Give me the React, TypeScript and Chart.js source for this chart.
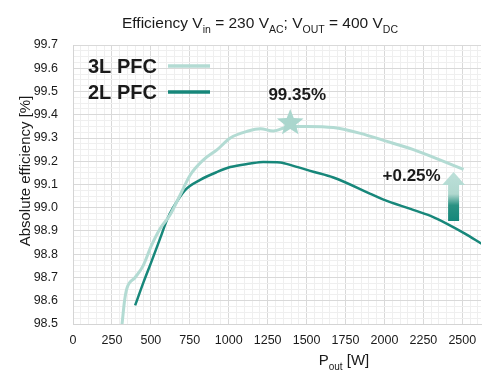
import React, { useEffect, useRef } from "react";
import { Chart, registerables } from "chart.js";

Chart.register(...registerables);

// ---- Data ----
const power3L = [305, 315, 331, 347, 399, 450, 502, 559, 624, 688, 752, 836, 926, 1010, 1125, 1203, 1286, 1395, 1505, 1672, 1846, 1994, 2186, 2360, 2508];
const eff3L = [98.44, 98.5, 98.6, 98.655, 98.7, 98.75, 98.835, 98.91, 98.97, 99.055, 99.14, 99.205, 99.25, 99.3, 99.33, 99.34, 99.33, 99.35, 99.35, 99.345, 99.32, 99.29, 99.25, 99.205, 99.165];

const power2L = [399, 453, 502, 559, 605, 643, 720, 817, 926, 1010, 1138, 1222, 1331, 1415, 1543, 1672, 1910, 1994, 2167, 2296, 2405, 2514, 2624];
const eff2L = [98.58, 98.68, 98.765, 98.867, 98.95, 99.0, 99.076, 99.12, 99.154, 99.175, 99.19, 99.197, 99.195, 99.18, 99.155, 99.13, 99.06, 99.035, 98.995, 98.965, 98.93, 98.89, 98.845];

const seriesNames = ["3L PFC", "2L PFC"];
const peakPoint = { w: 1395, eff: 99.365, label: "99.35%" };
const gainArrow = { w: 2444, top: 99.154, bottom: 98.943, label: "+0.25%" };

const xMin = 0;
const xMax = 2620;
const xMajor = 250;
const xMinor = 50;
const yMin = 98.5;
const yMax = 99.7;
const yMinor = 0.025;
const yMajorEvery = 4;

const COLOR_3L = "#b3dbd3";
const COLOR_2L = "#17877a";
const TEXT = "#1a1a1a";
const FONT = "'Liberation Sans', Arial, sans-serif";

const xTickValues: number[] = [];
for (let v = xMin; v <= xMax; v += xMinor) xTickValues.push(v);
const yTickValues: number[] = [];
for (let i = 0; Math.round((yMin + i * yMinor) * 1000) <= yMax * 1000; i++) {
  yTickValues.push(Math.round((yMin + i * yMinor) * 1000) / 1000);
}
const isYMajor = (v: number) => Math.round((v - yMin) / yMinor) % yMajorEvery === 0;
const isXMajor = (v: number) => Math.round(v) % xMajor === 0;

type Part = { t: string; sub?: boolean };

function drawRich(ctx: CanvasRenderingContext2D, parts: Part[], cx: number, baseY: number, size: number, subSize: number) {
  let total = 0;
  const widths = parts.map((p) => {
    ctx.font = `${p.sub ? subSize : size}px ${FONT}`;
    const w = ctx.measureText(p.t).width;
    total += w;
    return w;
  });
  let x = cx - total / 2;
  ctx.textAlign = "left";
  ctx.textBaseline = "alphabetic";
  parts.forEach((p, i) => {
    ctx.font = `${p.sub ? subSize : size}px ${FONT}`;
    ctx.fillText(p.t, x, p.sub ? baseY + size * 0.33 : baseY);
    x += widths[i];
  });
}

function drawStar(ctx: CanvasRenderingContext2D, cx: number, cy: number, R: number, r: number) {
  ctx.beginPath();
  for (let i = 0; i < 10; i++) {
    const ang = -Math.PI / 2 + (i * Math.PI) / 5;
    const rad = i % 2 === 0 ? R : r;
    const x = cx + rad * Math.cos(ang);
    const y = cy + rad * Math.sin(ang);
    if (i === 0) ctx.moveTo(x, y);
    else ctx.lineTo(x, y);
  }
  ctx.closePath();
  ctx.fill();
}

const decorPlugin = {
  id: "decor",
  afterDatasetsDraw(chart: any) {
    const ctx: CanvasRenderingContext2D = chart.ctx;
    const xs = chart.scales.x;
    const ys = chart.scales.y;
    ctx.save();
    ctx.fillStyle = TEXT;

    // Title
    drawRich(
      ctx,
      [
        { t: "Efficiency V" }, { t: "in", sub: true },
        { t: " = 230 V" }, { t: "AC", sub: true },
        { t: "; V" }, { t: "OUT", sub: true },
        { t: " = 400 V" }, { t: "DC", sub: true },
      ],
      260, 28, 15.5, 10.5
    );

    // X axis title
    drawRich(ctx, [{ t: "P" }, { t: "out", sub: true }, { t: " [W]" }], 344, 365, 15, 10);

    // Y axis title
    ctx.save();
    ctx.translate(26, 171);
    ctx.rotate(-Math.PI / 2);
    ctx.font = `15px ${FONT}`;
    ctx.textAlign = "center";
    ctx.textBaseline = "middle";
    ctx.fillText("Absolute efficiency [%]", 0, 0);
    ctx.restore();

    // Legend
    const legendY = [66, 92];
    const legendColors = [COLOR_3L, COLOR_2L];
    seriesNames.forEach((name, i) => {
      ctx.font = `bold 20px ${FONT}`;
      ctx.textAlign = "left";
      ctx.textBaseline = "middle";
      ctx.fillStyle = TEXT;
      ctx.fillText(name, 88, legendY[i] + 1);
      ctx.strokeStyle = legendColors[i];
      ctx.lineWidth = 3.5;
      ctx.beginPath();
      ctx.moveTo(168, legendY[i]);
      ctx.lineTo(210, legendY[i]);
      ctx.stroke();
    });

    // Peak star + label
    const sx = xs.getPixelForValue(peakPoint.w);
    const sy = ys.getPixelForValue(peakPoint.eff);
    ctx.fillStyle = "#aad6cd";
    drawStar(ctx, sx, sy, 14, 6);
    ctx.fillStyle = TEXT;
    ctx.font = `bold 17px ${FONT}`;
    ctx.textAlign = "center";
    ctx.textBaseline = "middle";
    ctx.fillText(peakPoint.label, sx + 7, sy - 28);

    // Gain arrow
    const ax = xs.getPixelForValue(gainArrow.w);
    const aTop = ys.getPixelForValue(gainArrow.top);
    const aBot = ys.getPixelForValue(gainArrow.bottom);
    const grad = ctx.createLinearGradient(0, aTop, 0, aBot);
    grad.addColorStop(0, "#bde0d9");
    grad.addColorStop(0.45, "#b0d8cf");
    grad.addColorStop(0.68, "#2a9283");
    grad.addColorStop(1, "#14877a");
    ctx.fillStyle = grad;
    ctx.beginPath();
    ctx.moveTo(ax, aTop);
    ctx.lineTo(ax + 11.5, aTop + 13);
    ctx.lineTo(ax + 5.5, aTop + 13);
    ctx.lineTo(ax + 5.5, aBot);
    ctx.lineTo(ax - 5.5, aBot);
    ctx.lineTo(ax - 5.5, aTop + 13);
    ctx.lineTo(ax - 11.5, aTop + 13);
    ctx.closePath();
    ctx.fill();
    ctx.fillStyle = TEXT;
    ctx.font = `bold 17px ${FONT}`;
    ctx.textAlign = "center";
    ctx.fillText(gainArrow.label, ax - 42, aTop + 4);

    ctx.restore();
  },
};

export default function App() {
  const ref = useRef<HTMLCanvasElement | null>(null);

  useEffect(() => {
    document.body.style.margin = "0";
    const canvas = ref.current;
    if (!canvas) return;
    const chart = new Chart(canvas, {
      type: "line",
      data: {
        datasets: [
          {
            label: seriesNames[0],
            data: power3L.map((w, i) => ({ x: w, y: eff3L[i] })),
            borderColor: COLOR_3L,
            borderWidth: 3,
            pointRadius: 0,
            cubicInterpolationMode: "monotone",
            fill: false,
          },
          {
            label: seriesNames[1],
            data: power2L.map((w, i) => ({ x: w, y: eff2L[i] })),
            borderColor: COLOR_2L,
            borderWidth: 2.5,
            pointRadius: 0,
            cubicInterpolationMode: "monotone",
            fill: false,
          },
        ],
      },
      options: {
        responsive: false,
        animation: false,
        events: [],
        layout: { padding: { top: 45, right: 8, left: 0, bottom: 0 } },
        plugins: {
          legend: { display: false },
          title: { display: false },
          tooltip: { enabled: false },
        },
        scales: {
          x: {
            type: "linear",
            min: xMin,
            max: xMax,
            afterBuildTicks: (s: any) => {
              s.ticks = xTickValues.map((v) => ({ value: v }));
            },
            afterFit: (s: any) => {
              s.height = 49;
            },
            ticks: {
              autoSkip: false,
              maxRotation: 0,
              padding: 9,
              color: TEXT,
              font: { family: FONT, size: 12.5 },
              callback: (v: any) => (isXMajor(Number(v)) ? String(v) : ""),
            },
            grid: {
              drawTicks: false,
              color: (c: any) => (c.tick && isXMajor(c.tick.value) ? "#d9d9d9" : "#efefef"),
              lineWidth: 1,
            },
            border: { color: "#d4d4d4" },
          },
          y: {
            type: "linear",
            min: yMin,
            max: yMax,
            afterBuildTicks: (s: any) => {
              s.ticks = yTickValues.map((v) => ({ value: v }));
            },
            afterFit: (s: any) => {
              s.width = 73;
            },
            ticks: {
              autoSkip: false,
              padding: 15,
              color: TEXT,
              font: { family: FONT, size: 12.5 },
              callback: (v: any) => (isYMajor(Number(v)) ? Number(v).toFixed(1) : ""),
            },
            grid: {
              drawTicks: false,
              color: (c: any) => (c.tick && isYMajor(c.tick.value) ? "#d9d9d9" : "#efefef"),
              lineWidth: 1,
            },
            border: { color: "#d4d4d4" },
          },
        },
      },
      plugins: [decorPlugin],
    });
    return () => chart.destroy();
  }, []);

  return (
    <div style={{ width: 489, height: 373, background: "#fff" }}>
      <canvas ref={ref} width={489} height={373} />
    </div>
  );
}
